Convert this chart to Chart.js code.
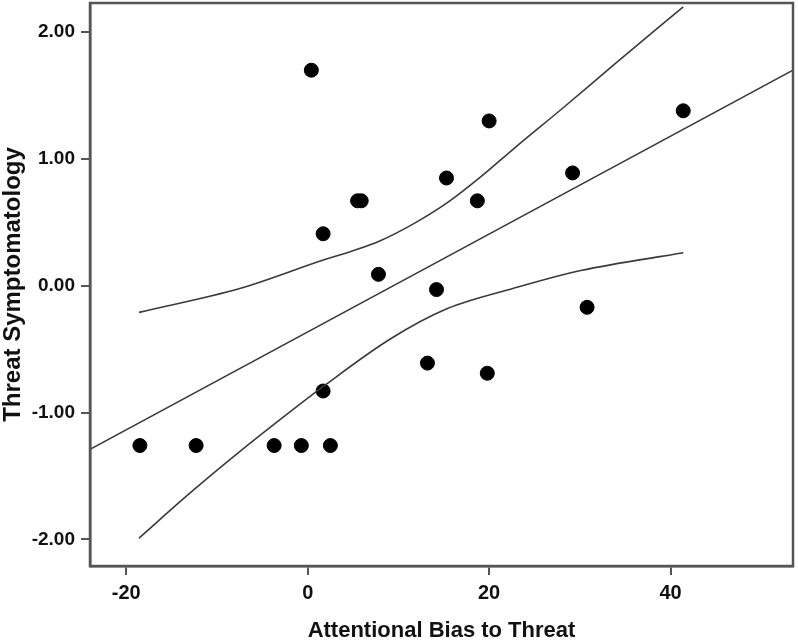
<!DOCTYPE html>
<html>
<head>
<meta charset="utf-8">
<script src="https://cdn.jsdelivr.net/npm/chart.js@4/dist/chart.umd.min.js"></script>
<style>
  html, body { margin: 0; padding: 0; background: #fff; }
  #wrap { width: 798px; height: 643px; }
</style>
</head>
<body>
<div id="wrap"><canvas id="MyChart"></canvas></div>
<script>
// scatter points
var biasX = [-18.5, -12.3, -3.7, -0.7, 2.5, 1.7, 0.4, 1.7, 5.5, 5.9, 7.8, 15.3, 14.2, 13.2, 18.7, 20.0, 19.8, 29.2, 30.8, 41.4];
var symptomY = [-1.26, -1.26, -1.26, -1.26, -1.26, -0.83, 1.70, 0.41, 0.67, 0.67, 0.09, 0.85, -0.03, -0.61, 0.67, 1.30, -0.69, 0.89, -0.17, 1.38];

// fit line
var fitX = [-24, 53.5];
var fitY = [-1.29, 1.70];

// confidence band
var upperX = [-18.6, -7.4, 1.8, 5.0, 8.0, 11.7, 15.4, 19.1, 22.7, 28.1, 33.7, 41.4];
var upperY = [-0.21, -0.02, 0.205, 0.276, 0.355, 0.49, 0.655, 0.86, 1.08, 1.40, 1.74, 2.20];
var lowerX = [-18.6, -12.9, -7.7, -3.3, 1.8, 9.1, 15.4, 22.7, 30.1, 41.4];
var lowerY = [-1.99, -1.63, -1.32, -1.07, -0.79, -0.42, -0.18, -0.02, 0.12, 0.26];

var xTicks = [-20, 0, 20, 40];
var yTicks = [-2, -1, 0, 1, 2];

function toPts(xs, ys) {
    var out = [];
    for (var i = 0; i < xs.length; i++) out.push({ x: xs[i], y: ys[i] });
    return out;
}

var frameBox = {
    id: 'frameBox',
    afterDraw: function (chart) {
        var a = chart.chartArea, c = chart.ctx;
        c.save();
        c.strokeStyle = '#555';
        c.lineWidth = 2.5;
        c.strokeRect(a.left, a.top, a.right - a.left, a.bottom - a.top);
        c.restore();
    }
};

var lineStyle = {
    type: 'line',
    showLine: true,
    fill: false,
    pointRadius: 0,
    borderColor: '#3a3a3a',
    borderWidth: 1.6
};

var ctx = document.getElementById('MyChart').getContext('2d');
var config = {
    type: 'scatter',
    data: {
        datasets: [
            Object.assign({ label: 'Fit', data: toPts(fitX, fitY), tension: 0 }, lineStyle),
            Object.assign({ label: 'Upper', data: toPts(upperX, upperY), cubicInterpolationMode: 'monotone' }, lineStyle),
            Object.assign({ label: 'Lower', data: toPts(lowerX, lowerY), cubicInterpolationMode: 'monotone' }, lineStyle),
            {
                label: 'Subjects',
                data: toPts(biasX, symptomY),
                pointRadius: 7,
                pointHoverRadius: 7,
                backgroundColor: '#000',
                borderColor: '#000',
                borderWidth: 1
            }
        ]
    },
    options: {
        responsive: true,
        maintainAspectRatio: false,
        animation: false,
        layout: { autoPadding: false, padding: { top: 3, right: 5, left: 0, bottom: 0 } },
        plugins: { legend: { display: false }, tooltip: { enabled: false } },
        scales: {
            x: {
                type: 'linear',
                min: -24,
                max: 53.5,
                afterBuildTicks: function (s) { s.ticks = xTicks.map(function (v) { return { value: v }; }); },
                afterFit: function (s) { s.height = 77; s.paddingLeft = 0; s.paddingRight = 0; },
                grid: { drawOnChartArea: false, drawTicks: true, tickLength: 9, color: '#555', lineWidth: 2 },
                border: { display: true, color: '#555', width: 2.5 },
                ticks: {
                    color: '#111',
                    padding: 6,
                    maxRotation: 0,
                    font: { family: 'Liberation Sans, Arial, sans-serif', size: 20, weight: 'bold' }
                },
                title: {
                    display: true,
                    text: 'Attentional Bias to Threat',
                    color: '#111',
                    padding: 0,
                    font: { family: 'Liberation Sans, Arial, sans-serif', size: 22, weight: 'bold', lineHeight: 1.1 }
                }
            },
            y: {
                type: 'linear',
                min: -2.21,
                max: 2.23,
                afterBuildTicks: function (s) { s.ticks = yTicks.map(function (v) { return { value: v }; }); },
                afterFit: function (s) { s.width = 90; s.paddingTop = 0; s.paddingBottom = 0; },
                grid: { drawOnChartArea: false, drawTicks: true, tickLength: 9, color: '#555', lineWidth: 2 },
                border: { display: true, color: '#555', width: 2.5 },
                ticks: {
                    color: '#111',
                    padding: 6,
                    callback: function (v) { return v.toFixed(2); },
                    font: { family: 'Liberation Sans, Arial, sans-serif', size: 19, weight: 'bold' }
                },
                title: {
                    display: true,
                    text: 'Threat Symptomatology',
                    color: '#111',
                    padding: 0,
                    font: { family: 'Liberation Sans, Arial, sans-serif', size: 24, weight: 'bold', lineHeight: 1.1 }
                }
            }
        }
    },
    plugins: [frameBox]
};
var scatterChart = new Chart(ctx, config);
</script>
</body>
</html>
